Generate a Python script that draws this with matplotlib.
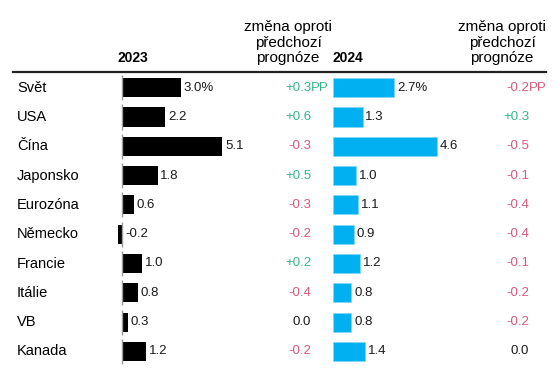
import matplotlib
matplotlib.use("Agg")
import matplotlib.pyplot as plt
from matplotlib.lines import Line2D
from matplotlib.transforms import blended_transform_factory

plt.rcParams['font.family'] = ['Liberation Sans', 'DejaVu Sans']

categories = ["Svět", "USA", "Čína", "Japonsko", "Eurozóna", "Německo",
              "Francie", "Itálie", "VB", "Kanada"]
growth_2023 = [3.0, 2.2, 5.1, 1.8, 0.6, -0.2, 1.0, 0.8, 0.3, 1.2]
growth_2024 = [2.7, 1.3, 4.6, 1.0, 1.1, 0.9, 1.2, 0.8, 0.8, 1.4]
change_2023 = [0.3, 0.6, -0.3, 0.5, -0.3, -0.2, 0.2, -0.4, 0.0, -0.2]
change_2024 = [-0.2, 0.3, -0.5, -0.1, -0.4, -0.4, -0.1, -0.2, -0.2, 0.0]
header_year = ["2023", "2024"]
header_change = "změna oproti\npředchozí\nprognóze"

W, H = 559, 372
BLACK = "#000000"
BLUE = "#00B0F0"
GREEN = "#36B587"
RED = "#D65A7B"
TXT = "#1a1a1a"

fig = plt.figure(figsize=(W / 100, H / 100), dpi=100)

def fx(px):
    return px / W

def fy(py):
    return 1 - py / H

row0, rowstep = 87.7, 29.3
ax_top, ax_bot = 73, 367
ylim = ((ax_bot - row0) / rowstep, (ax_top - row0) / rowstep)

def make_ax(left, right, zero, scale):
    ax = fig.add_axes([fx(left), fy(ax_bot), (right - left) / W, (ax_bot - ax_top) / H])
    ax.set_xlim((left - zero) / scale, (right - zero) / scale)
    ax.set_ylim(*ylim)
    ax.axis("off")
    return ax

ax1 = make_ax(100, 240, 122.3, 19.6)
ax2 = make_ax(320, 460, 333.3, 22.5)

ypos = list(range(len(categories)))
ax1.barh(ypos, growth_2023, height=0.65, color=BLACK)
ax2.barh(ypos, growth_2024, height=0.65, color=BLUE, edgecolor="#7fd6f5", linewidth=0.5)
for i in ypos:
    ax1.plot([0, 0], [i - 0.43, i + 0.43], color="#9a9a9a", lw=1.0, solid_capstyle="butt")

def value_labels(ax, vals):
    for i, v in enumerate(vals):
        lab = f"{v:.1f}" + ("%" if i == 0 else "")
        ax.annotate(lab, (max(v, 0), i), xytext=(2, 0), textcoords="offset points",
                    ha="left", va="center", fontsize=9.5, color=TXT)

value_labels(ax1, growth_2023)
value_labels(ax2, growth_2024)

def fmt_change(v):
    if abs(v) < 1e-9:
        return "0.0", TXT
    if v > 0:
        return f"+{v:.1f}", GREEN
    return f"-{abs(v):.1f}", RED

tr = blended_transform_factory(fig.transFigure, ax1.transData)
for i, c in enumerate(categories):
    ax1.text(fx(17), i, c, transform=tr, ha="left", va="center", fontsize=10.5, color=BLACK)

def change_col(vals, xr):
    for i, v in enumerate(vals):
        s, col = fmt_change(v)
        ax1.text(fx(xr), i, s, transform=tr, ha="right", va="center", fontsize=9.5, color=col)
        if i == 0:
            ax1.text(fx(xr), i, "PP", transform=tr, ha="left", va="center", fontsize=9.5, color=col)

change_col(change_2023, 311)
change_col(change_2024, 529)

# headers
fig.text(fx(133), fy(62), header_year[0], ha="center", va="baseline", fontsize=10, fontweight="bold")
fig.text(fx(348), fy(62), header_year[1], ha="center", va="baseline", fontsize=10, fontweight="bold")
fig.text(fx(288), fy(62), header_change, ha="center", va="baseline", fontsize=11,
         linespacing=1.12, multialignment="center", color=BLACK)
fig.text(fx(502), fy(62), header_change, ha="center", va="baseline", fontsize=11,
         linespacing=1.12, multialignment="center", color=BLACK)

fig.add_artist(Line2D([fx(13), fx(546)], [fy(72), fy(72)], transform=fig.transFigure,
                      color="#222222", lw=1.6))

fig.savefig("out.png", dpi=100)
